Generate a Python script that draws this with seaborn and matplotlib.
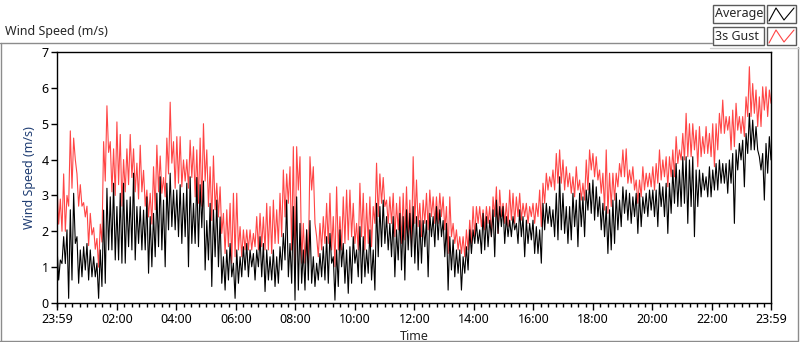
import matplotlib
matplotlib.use("Agg")
import matplotlib.pyplot as plt
import matplotlib.dates as mdates
from matplotlib.lines import Line2D
from matplotlib.patches import Rectangle
import pandas as pd
import seaborn as sns

# Values (peak / dip pairs), split in ~4 hour blocks
gust_a = [3.3, 2.2, 2.9, 2.0, 3.6, 2.0, 3.0, 2.7, 4.8, 3.2, 4.6, 4.0, 3.6, 2.7, 3.3, 2.7,
          2.8, 2.4, 2.7, 1.6, 2.5, 1.9, 2.1, 1.5, 1.8, 1.0, 2.2, 1.7, 4.5, 3.4, 5.5, 4.2,
          4.5, 3.1, 4.3, 3.0, 5.05, 3.3, 4.7, 2.7, 4.0, 3.1, 4.3, 3.3, 4.7, 3.5, 4.3, 3.1,
          3.9, 2.9, 4.4, 3.1, 3.7, 2.7, 3.15, 2.4, 3.06, 2.2, 3.8, 2.6, 4.4, 3.1, 4.1, 3.06,
          3.5, 2.96, 4.6, 3.6, 5.6, 3.9, 4.5, 3.2]
gust_b = [4.64, 3.34, 4.64, 3.24, 3.99, 3.4, 4.0, 3.2, 4.54, 3.5, 4.36, 2.96, 4.27, 2.78,
          4.6, 2.7, 5.0, 3.4, 4.27, 2.69, 3.8, 2.3, 4.1, 2.6, 3.34, 2.4, 3.24, 1.94, 2.5, 1.38,
          2.6, 1.57, 2.78, 1.11, 3.06, 1.29, 3.06, 1.48, 2.13, 1.29, 2.04, 1.48, 2.04, 1.48,
          2.04, 1.48, 1.94, 1.57, 2.41, 1.48, 2.5, 1.57, 2.4, 1.48, 2.78, 1.48, 2.69, 1.38,
          2.87, 1.66, 2.6, 1.66, 3.06, 1.85, 3.71, 2.4, 3.6, 2.78, 3.8, 1.48, 4.36, 1.0]
gust_c = [4.36, 3.15, 4.08, 1.11, 2.22, 1.11, 2.04, 1.11, 4.08, 3.15, 3.8, 2.22, 1.85, 1.29,
          2.22, 1.48, 2.41, 1.66, 2.78, 1.66, 3.06, 1.48, 2.41, 1.01, 3.24, 1.48, 2.41, 1.48,
          2.96, 1.66, 3.15, 1.76, 3.15, 1.85, 2.78, 1.66, 2.22, 1.48, 3.34, 1.85, 3.06, 1.48,
          2.78, 1.66, 2.96, 1.57, 2.69, 2.22, 3.9, 2.41, 3.6, 2.78, 3.5, 2.69, 2.87, 2.22,
          2.96, 2.22, 3.06, 1.85, 2.78, 2.04, 2.96, 1.66, 3.06, 1.76, 3.24, 1.85, 2.87, 1.57,
          4.08, 2.22]
gust_d = [3.43, 2.13, 2.78, 1.85, 2.87, 2.22, 3.06, 2.04, 3.15, 2.41, 2.96, 2.22, 2.96, 2.22,
          3.06, 2.41, 2.96, 2.04, 2.69, 1.38, 2.96, 1.85, 2.22, 1.66, 2.04, 1.48, 1.85, 1.38,
          1.85, 1.29, 2.04, 1.48, 2.31, 1.66, 2.69, 1.85, 2.69, 2.22, 2.69, 2.13, 2.6, 2.04,
          2.69, 2.22, 2.69, 1.85, 2.96, 2.41, 3.24, 1.94, 3.15, 2.41, 2.78, 2.22, 2.78, 2.13,
          3.15, 2.31, 3.06, 2.22, 2.96, 2.41, 3.06, 2.31, 2.78, 2.41, 2.78, 2.22, 2.69, 2.41,
          2.78, 2.22]
gust_e = [2.78, 2.41, 3.15, 2.13, 3.34, 2.78, 3.62, 3.15, 3.52, 3.24, 3.71, 3.15, 4.17, 3.34,
          4.27, 3.34, 3.99, 3.15, 3.8, 3.24, 3.62, 3.06, 3.52, 2.96, 3.8, 3.15, 3.43, 2.87,
          3.34, 2.87, 3.99, 3.15, 4.27, 3.71, 4.17, 3.52, 4.08, 3.43, 3.71, 3.06, 3.62, 2.59,
          4.27, 2.5, 3.62, 2.69, 3.62, 2.87, 3.62, 3.24, 3.89, 3.52, 4.27, 3.52, 4.3, 3.34,
          3.71, 3.34, 3.8, 3.15, 3.43, 2.78, 3.43, 2.96, 3.8, 3.15, 3.62, 3.24, 3.62, 3.24,
          3.8, 3.15]
gust_f = [3.89, 3.34, 4.27, 3.43, 3.99, 3.52, 4.08, 3.24, 4.08, 3.52, 4.27, 3.52, 4.64, 3.89,
          4.27, 3.99, 4.73, 3.99, 5.29, 4.08, 5.0, 4.08, 5.0, 4.27, 4.82, 3.8, 4.92, 4.08,
          4.64, 4.17, 4.92, 4.17, 4.73, 4.08, 5.0, 3.8, 5.0, 4.27, 5.29, 4.73, 5.66, 4.73,
          5.2, 4.82, 5.2, 4.27, 5.38, 4.36, 5.57, 4.82, 5.2, 4.73, 5.2, 4.64, 5.75, 5.2,
          6.59, 5.2, 6.12, 5.29, 5.94, 4.92, 5.75, 4.92, 6.03, 5.38, 6.03, 5.2, 5.94, 5.57]

avg_a = [1.57, 0.64, 1.2, 1.1, 1.85, 1.1, 2.04, 0.13, 2.6, 0.64, 3.06, 1.66, 1.85, 0.55,
         1.48, 0.73, 1.57, 0.92, 1.66, 0.64, 1.48, 0.73, 1.29, 0.73, 1.11, 0.13, 1.48, 0.46,
         2.59, 0.55, 3.2, 1.48, 2.96, 1.48, 3.34, 1.2, 2.69, 1.2, 3.06, 1.11, 3.34, 1.11,
         2.87, 1.57, 2.96, 1.48, 3.62, 1.2, 2.69, 1.66, 2.69, 1.48, 2.59, 1.48, 2.96, 0.83,
         2.41, 1.01, 2.5, 1.29, 3.06, 1.57, 3.52, 1.48, 2.87, 1.01, 3.34, 2.04, 3.62, 2.13,
         3.15, 2.04]
avg_b = [3.15, 1.85, 3.3, 1.66, 3.06, 1.85, 3.34, 1.01, 3.52, 1.66, 2.78, 1.66, 3.5, 1.57,
         3.3, 2.1, 3.4, 0.92, 2.3, 1.2, 2.78, 0.46, 2.6, 1.29, 2.87, 1.01, 2.4, 0.55, 1.29, 0.36,
         1.48, 0.64, 1.66, 0.73, 1.11, 0.13, 1.48, 0.55, 1.29, 0.73, 1.57, 0.92, 1.66, 0.73,
         1.48, 1.01, 1.38, 0.64, 1.48, 1.01, 1.85, 0.73, 1.66, 0.32, 1.48, 0.64, 1.29, 0.64,
         1.48, 0.46, 1.29, 0.55, 1.57, 0.92, 1.94, 1.2, 2.87, 0.73, 1.66, 0.55, 2.69, 0.08]
avg_c = [2.96, 0.36, 2.22, 0.55, 1.48, 0.36, 2.04, 0.64, 2.3, 0.55, 1.29, 0.46, 1.11, 0.64,
         1.38, 0.73, 1.57, 0.64, 1.85, 0.55, 1.94, 1.11, 1.29, 0.08, 1.48, 0.46, 2.04, 1.01,
         1.66, 0.55, 1.48, 0.27, 1.57, 0.55, 1.85, 1.11, 1.48, 0.73, 2.13, 0.55, 1.85, 0.73,
         1.48, 0.83, 2.04, 0.64, 1.48, 0.36, 2.78, 1.29, 2.69, 1.57, 2.87, 1.66, 2.41, 1.48,
         2.22, 1.29, 2.41, 0.73, 2.04, 1.2, 2.5, 0.92, 2.41, 0.64, 2.6, 1.48, 2.5, 1.29,
         2.69, 1.11]
avg_d = [2.41, 0.92, 2.3, 1.11, 2.3, 1.57, 2.3, 0.73, 2.5, 1.85, 2.41, 1.57, 2.69, 1.76,
         2.6, 1.85, 2.3, 1.29, 2.22, 0.36, 1.85, 0.92, 1.76, 0.73, 1.48, 0.83, 1.48, 0.36,
         1.29, 0.83, 1.57, 0.92, 2.04, 1.38, 2.04, 1.66, 2.22, 1.66, 2.04, 1.38, 2.5, 1.48,
         2.41, 1.57, 2.31, 1.85, 2.6, 1.29, 2.87, 1.94, 2.69, 2.13, 2.69, 1.66, 2.41, 1.85,
         2.31, 1.85, 2.41, 2.04, 2.22, 1.66, 2.6, 1.85, 2.41, 1.29, 2.31, 1.66, 2.22, 1.76,
         2.31, 1.38]
avg_e = [2.13, 1.38, 2.04, 1.11, 2.78, 2.04, 2.78, 2.22, 2.69, 2.13, 2.6, 1.85, 3.06, 1.76,
         3.52, 2.04, 3.06, 1.94, 2.69, 1.66, 2.69, 1.76, 3.06, 2.13, 2.87, 1.57, 3.06, 2.13,
         2.96, 1.85, 3.15, 2.59, 3.34, 2.5, 3.43, 2.31, 3.24, 2.41, 2.96, 2.04, 2.78, 1.85,
         2.69, 1.38, 2.6, 1.48, 2.87, 1.66, 3.06, 2.04, 2.87, 2.13, 3.24, 2.5, 3.15, 2.31,
         3.06, 2.22, 2.96, 2.41, 3.06, 1.94, 3.06, 2.13, 2.96, 2.5, 3.06, 2.41, 3.15, 2.59,
         3.15, 2.41]
avg_f = [3.15, 2.13, 3.34, 2.69, 3.24, 2.41, 3.34, 1.94, 3.34, 2.5, 3.71, 2.78, 3.89, 2.69,
         3.71, 2.69, 4.08, 2.78, 4.08, 2.22, 3.99, 2.69, 4.08, 1.85, 3.71, 2.69, 3.71, 2.96,
         3.62, 3.15, 3.52, 2.96, 3.8, 2.96, 3.71, 3.15, 3.89, 3.15, 3.99, 3.34, 3.89, 3.34,
         3.89, 3.06, 3.99, 3.34, 4.17, 2.22, 4.27, 3.71, 4.45, 3.99, 4.54, 3.24, 4.73, 4.17,
         5.29, 4.27, 5.1, 4.27, 4.92, 4.27, 4.08, 3.71, 4.17, 2.87, 4.45, 3.62, 4.64, 3.99]

y_ticks = [0, 1, 2, 3, 4, 5, 6, 7]
x_labels = ["23:59", "02:00", "04:00", "06:00", "08:00", "10:00", "12:00",
            "14:00", "16:00", "18:00", "20:00", "22:00", "23:59"]

gust = gust_a + gust_b + gust_c + gust_d + gust_e + gust_f
avg = avg_a + avg_b + avg_c + avg_d + avg_e + avg_f
times = pd.date_range("2016-03-01 23:59", "2016-03-02 23:59", periods=len(gust))
df = pd.DataFrame({"Time": times, "3s Gust": gust, "Average": avg})

sns.set_theme(style="ticks")
plt.rcParams['font.family'] = ['Noto Sans', 'DejaVu Sans']

W, H = 800, 342
fig = plt.figure(figsize=(W / 100, H / 100), dpi=100)


def fx(px):
    return px / W


def fy(py):
    return 1 - py / H


ax = fig.add_axes([fx(57), fy(303), fx(771) - fx(57), fy(52) - fy(303)])

sns.lineplot(data=df, x="Time", y="3s Gust", color="#ff4545", lw=0.8, ax=ax)
sns.lineplot(data=df, x="Time", y="Average", color="black", lw=0.8, ax=ax)

ax.set_xlim(times[0], times[-1])
ax.set_ylim(0, 7)
major = [times[0]] + list(pd.date_range("2016-03-02 02:00", periods=11, freq="2h")) + [times[-1]]
ax.set_xticks(major, x_labels)
ax.xaxis.set_minor_locator(mdates.MinuteLocator(byminute=[0, 15, 30, 45]))
ax.set_yticks(y_ticks)

ax.tick_params(axis="both", which="major", direction="out", length=4, width=1,
               color="black", labelsize=9, pad=2, labelcolor="black")
ax.tick_params(axis="x", which="major", length=5)
ax.tick_params(axis="x", which="minor", direction="out", length=3, width=1,
               color="black", bottom=True)
ax.set_xlabel("Time", fontsize=9, labelpad=3)
ax.set_ylabel("Wind Speed (m/s)", fontsize=9, color="#1f3d73", labelpad=4)
for s in ax.spines.values():
    s.set_visible(True)
    s.set_color("black")
    s.set_linewidth(1)

# chart label and LabVIEW-style frame
fig.text(fx(5), fy(31), "Wind Speed (m/s)", fontsize=9, va="center", ha="left")
frame = "#8c8c8c"
fig.add_artist(Line2D([fx(0), fx(712)], [fy(42.5), fy(42.5)], color=frame, lw=1))
fig.add_artist(Line2D([fx(0.5), fx(0.5)], [fy(42.5), fy(342)], color=frame, lw=1))
fig.add_artist(Line2D([fx(0), fx(797)], [fy(340.5), fy(340.5)], color=frame, lw=1))
fig.add_artist(Line2D([fx(797.5), fx(797.5)], [fy(47), fy(341)], color=frame, lw=1))
fig.add_artist(Line2D([fx(710), fx(800)], [fy(47.5), fy(47.5)], color="#d0d0d0", lw=1))

# legend boxes
for row, (name, col) in enumerate([("Average", "black"), ("3s Gust", "#ff4545")]):
    top = 5 + row * 22
    fig.add_artist(Rectangle((fx(713), fy(top + 18)), 51 / W, 18 / H, transform=fig.transFigure,
                             facecolor="white", edgecolor="#5a5a5a", lw=1))
    fig.add_artist(Rectangle((fx(767), fy(top + 18)), 29 / W, 18 / H, transform=fig.transFigure,
                             facecolor="white", edgecolor="#5a5a5a", lw=1))
    fig.text(fx(715), fy(top + 9), name, fontsize=9, va="center", ha="left")
    fig.add_artist(Line2D([fx(769), fx(776), fx(784), fx(794)],
                          [fy(top + 16), fy(top + 3), fy(top + 15), fy(top + 3)],
                          color=col, lw=0.8))

fig.savefig("out.png", dpi=100)
